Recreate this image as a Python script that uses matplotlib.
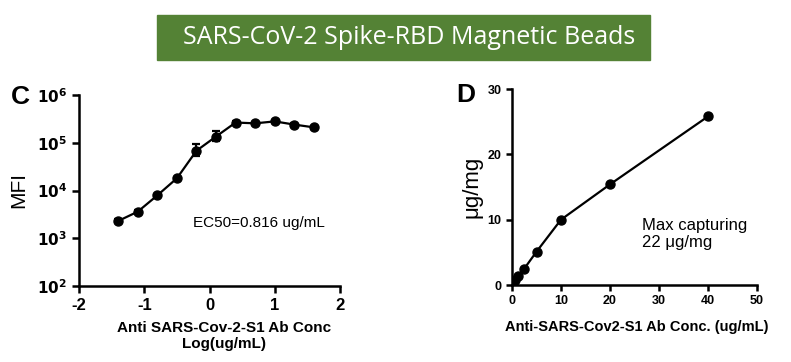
import numpy as np
import matplotlib.pyplot as plt
from matplotlib.patches import Rectangle
from matplotlib.ticker import FixedLocator, FuncFormatter

plt.rcParams['font.family'] = ['Liberation Sans', 'DejaVu Sans']
plt.rcParams['axes.unicode_minus'] = False

# Panel C data (log10 conc vs MFI)
log_conc = [-1.4, -1.1, -0.8, -0.5, -0.2, 0.1, 0.4, 0.7, 1.0, 1.3, 1.6]
mfi = [2300, 3600, 7900, 18000, 68000, 135000, 265000, 255000, 280000, 240000, 210000]
mfi_lo = [2100, 3300, 7300, 16500, 52000, 110000, 250000, 240000, 265000, 225000, 198000]
mfi_hi = [2500, 3900, 8500, 19500, 93000, 173000, 280000, 270000, 295000, 255000, 222000]

# Panel D data (conc vs capture)
conc = [0, 0.3, 0.6, 1.25, 2.5, 5, 10, 20, 40]
capture = [0, 0.3, 0.7, 1.4, 2.5, 5.1, 10, 15.4, 25.8]

title = 'SARS-CoV-2 Spike-RBD Magnetic Beads'

fig = plt.figure(figsize=(7.91, 3.62), dpi=100)

# green title banner
fig.patches.append(Rectangle((157/791, 1-60/362), (650-157)/791, 45/362,
                             transform=fig.transFigure, color='#548235', zorder=0))
fig.text(409/791, 1-38/362, title, color='white', fontsize=18,
         family='Open Sans', ha='center', va='center')

# ---- Panel C ----
ax1 = fig.add_axes([79/791, 1-286/362, 261/791, 191/362])
yerr = [np.array(mfi) - np.array(mfi_lo), np.array(mfi_hi) - np.array(mfi)]
ax1.errorbar(log_conc, mfi, yerr=yerr, fmt='o-', color='black', ms=6.5,
             lw=1.6, capsize=3, capthick=1.6, elinewidth=1.6)
ax1.set_yscale('log')
ax1.set_ylim(1e2, 1e6)
ax1.set_xlim(-2, 2)
ax1.set_xticks([-2, -1, 0, 1, 2])
ax1.yaxis.set_major_locator(FixedLocator([1e2, 1e3, 1e4, 1e5, 1e6]))
ax1.yaxis.set_minor_locator(FixedLocator([]))
ax1.yaxis.set_major_formatter(FuncFormatter(
    lambda v, p: r'$\mathbf{10^{%d}}$' % round(np.log10(v))))
for s in ['top', 'right']:
    ax1.spines[s].set_visible(False)
for s in ['left', 'bottom']:
    ax1.spines[s].set_linewidth(1.8)
ax1.tick_params(width=1.8, length=5, labelsize=11)
ax1.tick_params(axis='x', labelsize=12)
for lab in ax1.get_xticklabels():
    lab.set_fontweight('bold')
ax1.set_ylabel('MFI', fontsize=15, labelpad=6)
fig.text(224/791, 1-336/362, 'Anti SARS-Cov-2-S1 Ab Conc\nLog(ug/mL)',
         fontsize=11, fontweight='bold', ha='center', va='center',
         linespacing=1.25)
ax1.text(0.69, 0.33, 'EC50=0.816 ug/mL', transform=ax1.transAxes,
         fontsize=11, ha='center', va='center')
fig.text(11/791, 1-97/362, 'C', fontsize=19, fontweight='bold', va='center')

# ---- Panel D ----
ax2 = fig.add_axes([512/791, 1-285/362, 245/791, 196/362])
ax2.plot(conc, capture, 'o-', color='black', ms=6.5, lw=1.6)
ax2.set_xlim(0, 50)
ax2.set_ylim(0, 30)
ax2.set_xticks([0, 10, 20, 30, 40, 50])
ax2.set_yticks([0, 10, 20, 30])
for s in ['top', 'right']:
    ax2.spines[s].set_visible(False)
for s in ['left', 'bottom']:
    ax2.spines[s].set_linewidth(1.8)
ax2.tick_params(width=1.8, length=4, labelsize=9)
for lab in ax2.get_xticklabels() + ax2.get_yticklabels():
    lab.set_fontweight('bold')
ax2.set_ylabel('μg/mg', fontsize=16, labelpad=4)
ax2.set_xlabel('Anti-SARS-Cov2-S1 Ab Conc. (ug/mL)', fontsize=10.5,
               fontweight='bold')
ax2.xaxis.set_label_coords(0.51, -0.18)
ax2.text(0.53, 0.34, 'Max capturing\n22 μg/mg', transform=ax2.transAxes,
         fontsize=12, ha='left', va='top', linespacing=1.15)
fig.text(456/791, 1-95/362, 'D', fontsize=19, fontweight='bold', va='center')

fig.savefig('out.png', dpi=100)
